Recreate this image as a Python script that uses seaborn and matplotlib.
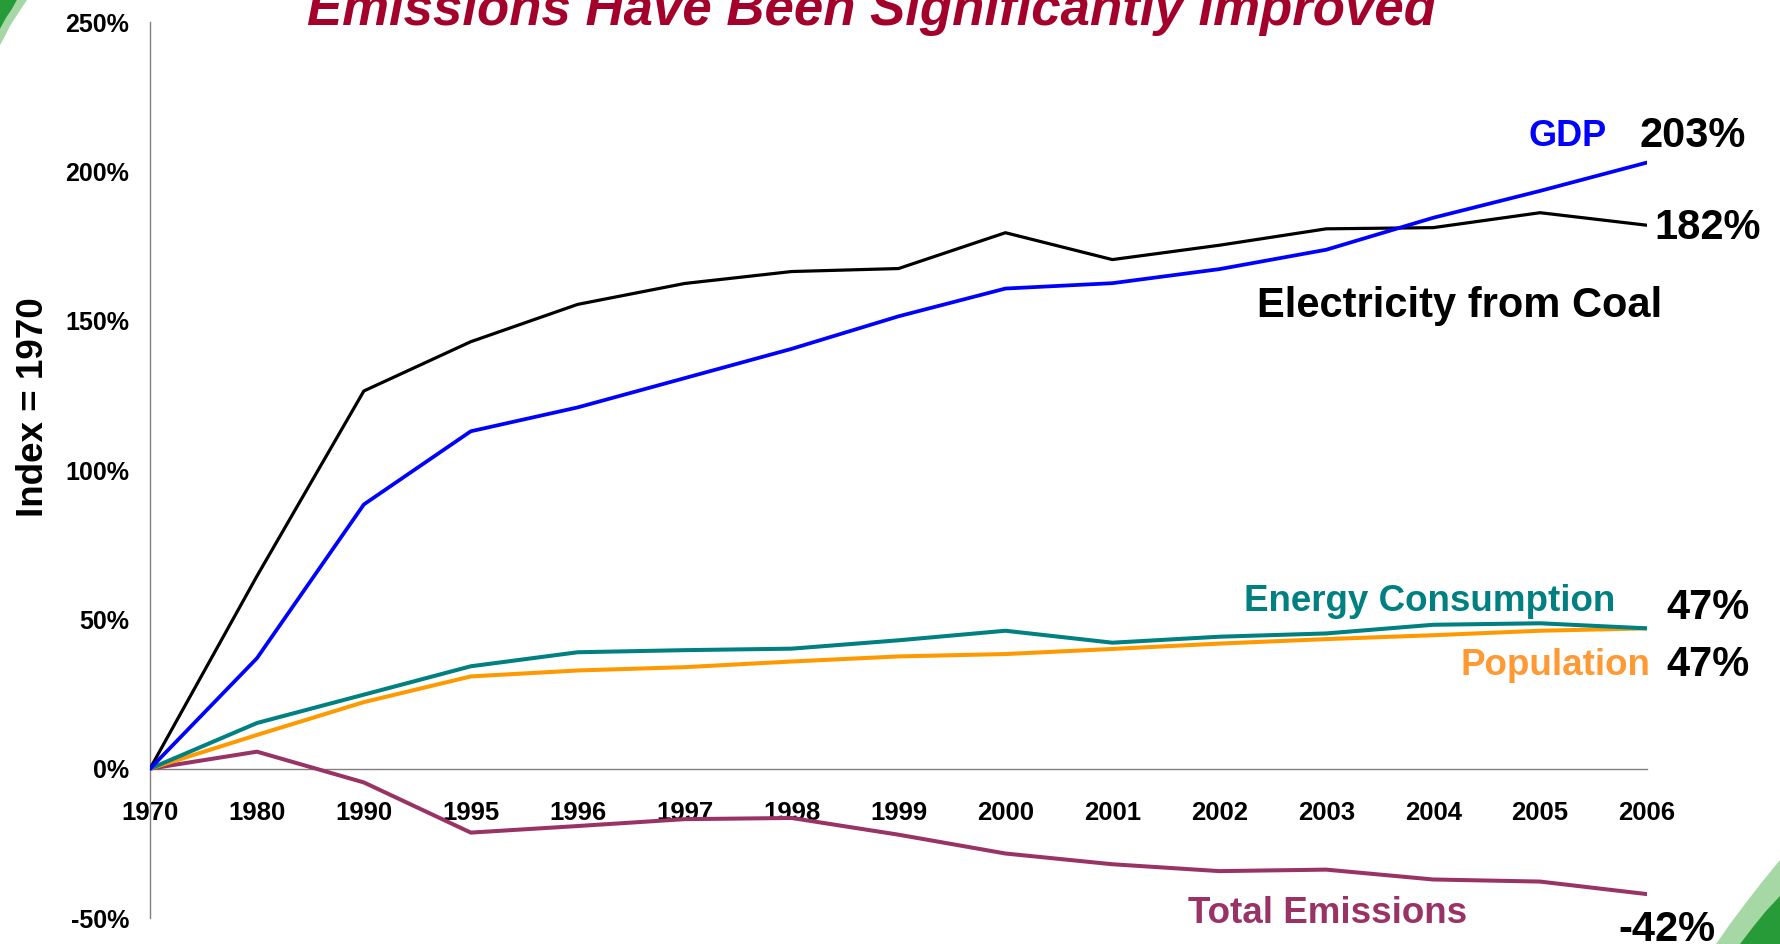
import numpy as np
import pandas as pd
import matplotlib
matplotlib.use("Agg")
import matplotlib.pyplot as plt
from matplotlib.patches import Polygon
import seaborn as sns

# ---- data (index, % change vs 1970) ----
years = ["1970", "1980", "1990", "1995", "1996", "1997", "1998", "1999",
         "2000", "2001", "2002", "2003", "2004", "2005", "2006"]
coal_electricity = [0, 64.5, 126.5, 143.0, 155.5, 162.5, 166.5, 167.5,
                    179.5, 170.5, 175.3, 180.8, 181.2, 186.2, 182]
gdp = [0, 37.0, 88.5, 113.0, 121.0, 130.8, 140.6, 151.5,
       160.8, 162.6, 167.3, 173.8, 184.5, 193.5, 203]
energy_consumption = [0, 15.3, 24.8, 34.3, 39.0, 39.7, 40.2, 43.0,
                      46.2, 42.2, 44.2, 45.3, 48.2, 48.7, 47]
population = [0, 11.3, 22.3, 30.9, 32.9, 34.0, 35.9, 37.6,
              38.4, 40.1, 41.9, 43.4, 44.7, 46.2, 47]
total_emissions = [0, 5.7, -4.6, -21.4, -19.2, -16.9, -16.5, -22.1,
                   -28.4, -32.0, -34.3, -33.8, -37.1, -37.8, -42]
y_ticks = [-50, 0, 50, 100, 150, 200, 250]

sns.set_theme(style="white")
plt.rcParams["font.family"] = ["Liberation Sans", "DejaVu Sans"]
plt.rcParams["font.weight"] = "bold"

W, H = 1780, 944
fig = plt.figure(figsize=(W / 100, H / 100), dpi=100)
fig.patch.set_facecolor("white")

# axes box in pixel terms: x 150..1647, y 22..918
ax_left, ax_right, ax_top, ax_bottom = 150, 1647, 22.2, 918
ax = fig.add_axes([ax_left / W, (H - ax_bottom) / H,
                   (ax_right - ax_left) / W, (ax_bottom - ax_top) / H])
ax.set_facecolor("none")

pos = np.arange(len(years))
series = [
    ("Total Emissions", total_emissions, "#993366", 2.9),
    ("Population", population, "#FF9900", 2.9),
    ("Energy Consumption", energy_consumption, "#008080", 2.9),
    ("Electricity from Coal", coal_electricity, "#000000", 2.3),
    ("GDP", gdp, "#0000FF", 2.7),
]
for name, vals, color, lw in series:
    df = pd.DataFrame({"pos": pos, "value": vals})
    sns.lineplot(data=df, x="pos", y="value", color=color, linewidth=lw,
                 ax=ax, legend=False, estimator=None, sort=False)

ax.set_xlim(0, len(years) - 1)
ax.set_ylim(-50, 250)
ax.set_xlabel("")
ax.set_ylabel("")

for s in ["top", "right"]:
    ax.spines[s].set_visible(False)
ax.spines["bottom"].set_position(("data", 0))
for s in ["bottom", "left"]:
    ax.spines[s].set_color("#808080")
    ax.spines[s].set_linewidth(1.0)
    ax.spines[s].set_zorder(1)

ax.set_xticks(pos, years)
ax.set_yticks(y_ticks, [f"{v}%" for v in y_ticks])
ax.tick_params(axis="x", direction="out", length=6, width=1, color="#808080",
               pad=17, labelsize=18.5, labelcolor="black")
ax.tick_params(axis="y", direction="out", length=6, width=1, color="#808080",
               pad=9, labelsize=18, labelcolor="black")
for lab in ax.get_xticklabels() + ax.get_yticklabels():
    lab.set_fontweight("bold")
ax.grid(False)

# ---- series names and end values ----
lab_kw = dict(fontweight="bold", clip_on=False, va="baseline")
ax.text(13.62, 208.5, "GDP", color="#0000FF", fontsize=26, ha="right", **lab_kw)
ax.text(13.93, 208.3, "203%", color="black", fontsize=30, ha="left", **lab_kw)
ax.text(14.07, 177.3, "182%", color="black", fontsize=30, ha="left", **lab_kw)
ax.text(12.25, 151.4, "Electricity from Coal", color="black", fontsize=30,
        ha="center", **lab_kw)
ax.text(11.97, 52.9, "Energy Consumption", color="#008080", fontsize=26.5,
        ha="center", **lab_kw)
ax.text(14.18, 50.0, "47%", color="black", fontsize=30, ha="left", **lab_kw)
ax.text(13.14, 31.4, "Population", color="#FF9933", fontsize=26.5,
        ha="center", **lab_kw)
ax.text(14.18, 31.0, "47%", color="black", fontsize=30, ha="left", **lab_kw)
ax.text(11.01, -51.8, "Total Emissions", color="#993366", fontsize=26.5,
        ha="center", **lab_kw)
ax.text(13.73, -57.7, "-42%", color="black", fontsize=30, ha="left", **lab_kw)

# ---- axis title and headline ----
fig.text(43 / W, (H - 407) / H, "Index = 1970", rotation=90,
         rotation_mode="anchor", ha="center", va="baseline",
         fontsize=26.5, fontweight="bold", color="black")
fig.text(871.6 / W, (H - 25) / H, "Emissions Have Been Significantly Improved",
         ha="center", va="baseline", fontsize=38, fontweight="bold",
         fontstyle="italic", color="#A3002B")


# ---- green corner swooshes ----
def px_poly(points, color, z=0):
    pts = [(x / W, (H - y) / H) for x, y in points]
    fig.patches.append(Polygon(pts, closed=True, transform=fig.transFigure,
                               facecolor=color, edgecolor="none", zorder=z))


px_poly([(17, 0), (27, 0), (19, 12), (10, 26), (3, 40), (0, 45),
         (0, 29), (6, 18), (12, 9)], "#A6D8A6")
px_poly([(0, 0), (17, 0), (12, 9), (6, 18), (0, 29)], "#279B37")
px_poly([(1716, 944), (1780, 944), (1780, 860), (1762, 882), (1745, 904),
         (1730, 924)], "#A6D8A6")
px_poly([(1740, 944), (1780, 944), (1780, 896), (1766, 911), (1753, 927)],
        "#279B37")

fig.savefig("out.png", dpi=100, facecolor="white")
